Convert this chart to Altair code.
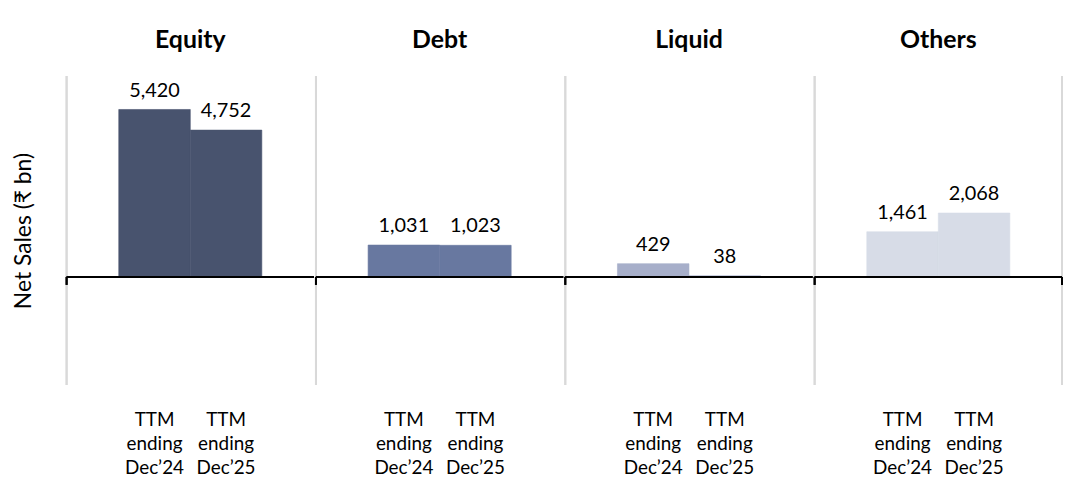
import altair as alt
import pandas as pd

categories = ["Equity", "Debt", "Liquid", "Others"]
periods = ["Dec’24", "Dec’25"]
values_dec24 = [5420, 1031, 429, 1461]
values_dec25 = [4752, 1023, 38, 2068]
colors = ["#48536E", "#6878A0", "#A7AFCA", "#D7DCE7"]

rows = []
for c, v1, v2 in zip(categories, values_dec24, values_dec25):
    rows.append({"Category": c, "Period": periods[0], "Value": v1})
    rows.append({"Category": c, "Period": periods[1], "Value": v2})
df = pd.DataFrame(rows)

FONT = "Lato, 'Noto Sans', sans-serif"
last_cat = categories[-1]

yscale = alt.Scale(domain=[-3500, 6500], nice=False, zero=False)
xscale = alt.Scale(domain=periods, paddingInner=0, paddingOuter=0.729)

x_enc = alt.X(
    "Period:N",
    scale=xscale,
    sort=periods,
    axis=alt.Axis(
        title=None,
        domain=False,
        ticks=False,
        grid=False,
        labelAngle=0,
        labelExpr="['TTM', 'ending', datum.label]",
        labelFont=FONT,
        labelFontSize=19,
        labelLineHeight=24,
        labelColor="#000000",
        labelBaseline="top",
        labelPadding=25,
    ),
)
y_enc = alt.Y(
    "Value:Q",
    scale=yscale,
    axis=alt.Axis(
        title="Net Sales (₹ bn)",
        labels=False,
        ticks=False,
        domain=False,
        grid=False,
        titleFont=FONT,
        titleFontSize=23,
        titleFontWeight="normal",
        titleColor="#000000",
        titlePadding=30,
    ),
)

sep_l = alt.Chart().mark_rule(color="#D9D9D9", strokeWidth=2).encode(
    x=alt.value(0), y=alt.value(0), y2=alt.value("height")
)
sep_r = (
    alt.Chart()
    .transform_filter(alt.datum.Category == last_cat)
    .mark_rule(color="#D9D9D9", strokeWidth=2)
    .encode(x=alt.value("width"), y=alt.value(0), y2=alt.value("height"))
)

bars = alt.Chart().mark_bar(strokeWidth=0.6).encode(
    x=x_enc,
    y=y_enc,
    color=alt.Color("Category:N", scale=alt.Scale(domain=categories, range=colors), legend=None),
    stroke=alt.Stroke("Category:N", scale=alt.Scale(domain=categories, range=colors), legend=None),
)

labels = alt.Chart().mark_text(
    font=FONT, fontSize=20, color="#000000", baseline="alphabetic", dy=-13
).encode(
    x=alt.X("Period:N", sort=periods),
    y="Value:Q",
    text=alt.Text("Value:Q", format=",.0f"),
)

zero = alt.Chart().mark_rule(color="#000000", strokeWidth=2).encode(
    x=alt.value(0), x2=alt.value("width"), y=alt.datum(0)
)
tick_l = alt.Chart().mark_rule(color="#000000", strokeWidth=2, y2Offset=8).encode(
    x=alt.value(0), y=alt.datum(0), y2=alt.datum(0)
)
tick_r = (
    alt.Chart()
    .transform_filter(alt.datum.Category == last_cat)
    .mark_rule(color="#000000", strokeWidth=2, y2Offset=8)
    .encode(x=alt.value("width"), y=alt.datum(0), y2=alt.datum(0))
)

layered = alt.layer(sep_l, sep_r, bars, labels, zero, tick_l, tick_r, data=df).properties(
    width=249, height=311, view=alt.ViewBackground(stroke="transparent", strokeWidth=0)
)

chart = (
    layered.facet(
        column=alt.Column(
            "Category:N",
            sort=categories,
            header=alt.Header(
                title=None,
                labelFont=FONT,
                labelFontSize=25,
                labelFontWeight="bold",
                labelColor="#000000",
                labelOrient="top",
                labelPadding=22,
            ),
        ),
        spacing=0,
    )
    .configure_view(strokeWidth=0, stroke="transparent")
    .configure(
        padding={"left": 5, "top": 19, "right": 0, "bottom": 0},
        style={"cell": {"stroke": "transparent", "strokeWidth": 0}},
    )
)

chart.save("out.html", embed_options={"renderer": "svg", "actions": False})
